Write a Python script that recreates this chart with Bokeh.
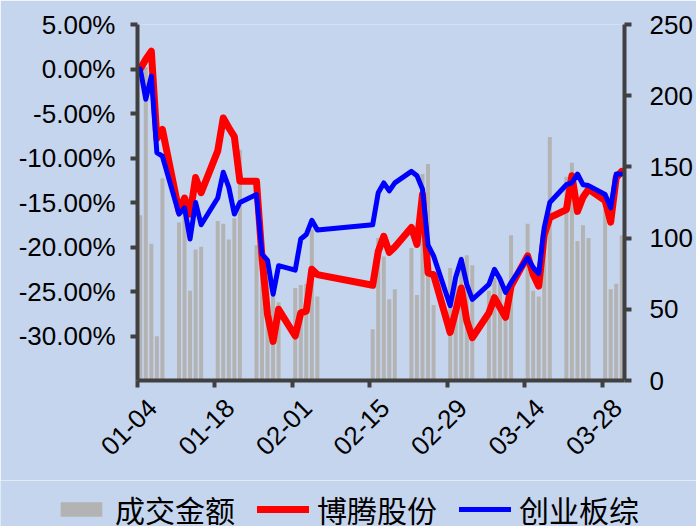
import math
import pandas as pd
from bokeh.plotting import figure
from bokeh.layouts import column
from bokeh.models import (ColumnDataSource, Range1d, LinearAxis, DatetimeAxis, FixedTicker,
                          NumeralTickFormatter, DatetimeTickFormatter, Legend,
                          LegendItem, SingleIntervalTicker)
from bokeh.embed import file_html
from bokeh.resources import INLINE

YEAR = 2016
dates = ["01-04", "01-05", "01-06", "01-07", "01-08",
         "01-11", "01-12", "01-13", "01-14", "01-15",
         "01-18", "01-19", "01-20", "01-21", "01-22",
         "01-25", "01-26", "01-27", "01-28", "01-29",
         "02-01", "02-02", "02-03", "02-04", "02-05",
         "02-15", "02-16", "02-17", "02-18", "02-19",
         "02-22", "02-23", "02-24", "02-25", "02-26",
         "02-29", "03-01", "03-02", "03-03", "03-04",
         "03-07", "03-08", "03-09", "03-10", "03-11",
         "03-14", "03-15", "03-16", "03-17", "03-18",
         "03-21", "03-22", "03-23", "03-24", "03-25",
         "03-28", "03-29", "03-30", "03-31"]

turnover = [116, 220, 96, 31, 142,
            111, 120, 63, 92, 94,
            112, 110, 99, 114, 162,
            95, 88, 75, 68, 55,
            65, 67, 68, 106, 59,
            36, 100, 87, 57, 64,
            93, 60, 145, 152, 53,
            79, 70, 87, 88, 81,
            63, 72, 70, 55, 102,
            110, 63, 59, 95, 171,
            143, 153, 98, 109, 100,
            120, 64, 68, 102]

boteng_pct = [0.0, 1.1, 2.0, -7.8, -6.8,
              -16.0, -14.5, -16.3, -12.2, -13.9,
              -9.2, -5.5, -6.6, -7.6, -12.6,
              -12.6, -21.2, -27.6, -30.6, -27.0,
              -30.0, -27.4, -27.2, -22.5, -23.1,
              -24.3, -20.5, -18.8, -20.6, -20.0,
              -17.8, -19.7, -14.1, -22.9, -23.1,
              -29.6, -27.2, -24.6, -28.3, -30.2,
              -27.4, -25.7, -26.8, -27.9, -24.4,
              -21.0, -23.1, -24.4, -18.6, -16.7,
              -15.8, -12.0, -16.0, -14.4, -13.5,
              -14.8, -17.2, -12.2, -11.5]

chinext_pct = [0.0, -3.4, -0.8, -9.4, -9.8,
               -16.3, -15.6, -19.1, -15.0, -17.5,
               -14.5, -11.6, -13.3, -16.3, -15.0,
               -14.1, -20.8, -21.5, -25.3, -22.1,
               -22.6, -19.1, -18.6, -17.0, -18.1,
               -17.5, -13.9, -12.8, -13.7, -12.8,
               -11.5, -12.0, -13.5, -19.8, -21.0,
               -26.6, -23.4, -21.4, -24.2, -25.9,
               -24.2, -22.5, -23.6, -25.1, -24.0,
               -21.2, -22.3, -23.0, -17.8, -15.0,
               -13.0, -12.8, -11.8, -13.0, -13.1,
               -14.1, -15.6, -11.8, -11.8]

tick_dates = ["01-04", "01-18", "02-01", "02-15", "02-29", "03-14", "03-28"]
legend_labels = ["成交金额", "博腾股份", "创业板综"]

BG = "#C6D5EE"
AX = "#404040"
BAR = "#B3B3B3"
RED = "#FF0000"
BLUE = "#0000FF"
DAY = pd.Timedelta(days=1)

x = pd.to_datetime([f"{YEAR}-{d}" for d in dates]) + pd.Timedelta(hours=12)
src = ColumnDataSource(dict(
    x=x,
    vol=turnover,
    red=[v / 100 for v in boteng_pct],
    blue=[v / 100 for v in chinext_pct],
))

x0 = pd.Timestamp(f"{YEAR}-01-04")
x1 = pd.Timestamp(f"{YEAR}-04-01")

p = figure(width=696, height=480, x_axis_type="datetime",
           x_range=Range1d(x0, x1),
           y_range=Range1d(-0.35, 0.05),
           output_backend="svg", toolbar_location=None,
           min_border_left=137, min_border_right=72,
           min_border_top=24, min_border_bottom=100)
p.background_fill_color = BG
p.border_fill_color = BG
p.outline_line_color = None
p.xgrid.visible = False
p.ygrid.visible = False

p.extra_y_ranges = {"vol": Range1d(0, 250)}
shift = 2.7 * DAY
p.extra_x_ranges = {"lab": Range1d(x0 - shift, x1 - shift)}

BAR_W = 0.72 * 86400000
p.vbar(x="x", top="vol", bottom=0, width=BAR_W, source=src,
       y_range_name="vol", fill_color=BAR, line_color=None)
p.line("x", "red", source=src, line_color=RED, line_width=7,
       line_join="round", line_cap="round")
p.line("x", "blue", source=src, line_color=BLUE, line_width=5,
       line_join="round", line_cap="round")

def style_axis(ax, font_size="26px"):
    ax.axis_line_color = AX
    ax.axis_line_width = 4
    ax.major_tick_line_color = AX
    ax.major_tick_line_width = 4
    ax.major_tick_in = 0
    ax.major_tick_out = 7
    ax.minor_tick_line_color = None
    ax.major_label_text_font = "Liberation Sans"
    ax.major_label_text_font_size = font_size
    ax.major_label_text_color = "#000000"

# left axis
yl = p.yaxis[0]
yl.ticker = SingleIntervalTicker(interval=0.05)
yl.formatter = NumeralTickFormatter(format="0.00%")
style_axis(yl)
yl.major_label_standoff = 15

# right axis
yr = LinearAxis(y_range_name="vol", ticker=SingleIntervalTicker(interval=50))
style_axis(yr, "26px")
yr.major_label_standoff = 18
p.add_layout(yr, "right")

# bottom axis (line + ticks only)
tick_ms = [pd.Timestamp(f"{YEAR}-{d}").timestamp() * 1000 for d in tick_dates]
fmt = "%m-%d"
def dt_fmt():
    return DatetimeTickFormatter(microseconds=fmt, milliseconds=fmt, seconds=fmt,
                                 minsec=fmt, minutes=fmt, hourmin=fmt, hours=fmt,
                                 days=fmt, months=fmt, years=fmt)
xa = p.xaxis[0]
xa.ticker = FixedTicker(ticks=tick_ms)
xa.formatter = dt_fmt()
style_axis(xa)
xa.major_label_text_font_size = "1px"
xa.major_label_text_alpha = 0
xa.major_label_standoff = 0

# bottom labels (rotated, offset like the original)
xl = DatetimeAxis(x_range_name="lab", ticker=FixedTicker(ticks=tick_ms), formatter=dt_fmt())
style_axis(xl)
xl.axis_line_color = None
xl.major_tick_line_color = None
xl.major_tick_out = 0
xl.major_label_orientation = math.pi / 4
xl.major_label_standoff = 16
p.add_layout(xl, "below")

# legend strip (its glyphs use the same data, kept out of view)
q = figure(width=696, height=46, x_axis_type="datetime", x_range=Range1d(x0, x1),
           y_range=Range1d(1000, 1001),
           output_backend="svg", toolbar_location=None, min_border=0,
           x_axis_location=None, y_axis_location=None)
q.background_fill_color = BG
q.border_fill_color = BG
q.outline_line_color = None
q.xgrid.visible = False
q.ygrid.visible = False
for fig in (p, q):
    if "frame_align" in fig.properties():
        fig.frame_align = False
lb = q.vbar(x="x", top="vol", bottom=0, width=BAR_W, source=src,
            fill_color=BAR, line_color=None)
lr = q.line("x", "red", source=src, line_color=RED, line_width=7, line_cap="round")
lbl = q.line("x", "blue", source=src, line_color=BLUE, line_width=5, line_cap="round")

legend = Legend(items=[LegendItem(label=legend_labels[0], renderers=[lb]),
                       LegendItem(label=legend_labels[1], renderers=[lr]),
                       LegendItem(label=legend_labels[2], renderers=[lbl])],
                location=(55, -5), orientation="horizontal")
legend.background_fill_alpha = 0
legend.border_line_alpha = 0
legend.label_text_font = "Noto Sans CJK SC"
legend.label_text_font_size = "30px"
legend.label_text_color = "#000000"
legend.glyph_width = 52
legend.glyph_height = 18
legend.label_standoff = 8
legend.spacing = 22
legend.padding = 0
legend.margin = 0
q.add_layout(legend)

layout = column(p, q, spacing=0)
open("out.html", "w").write(file_html(layout, INLINE))
